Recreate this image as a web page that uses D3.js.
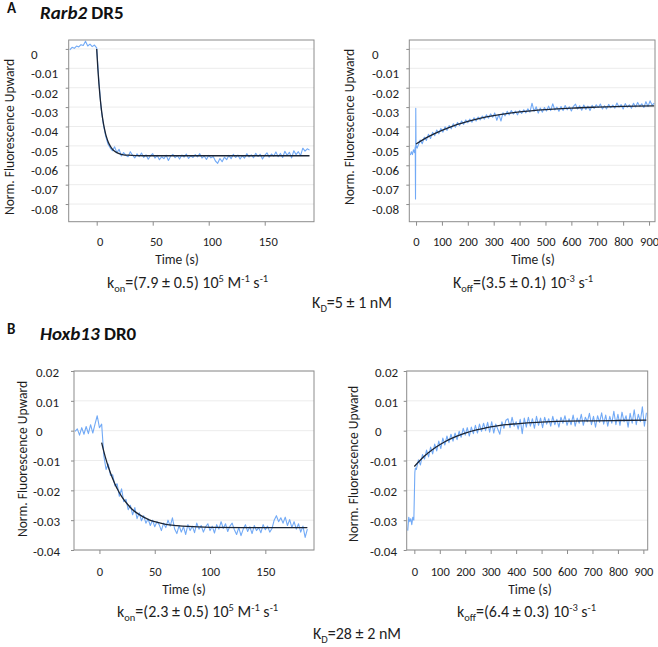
<!DOCTYPE html>
<html><head><meta charset="utf-8">
<script src="https://cdn.jsdelivr.net/npm/d3@7"></script>
<style>
body{margin:0;background:#fff}
svg{font-family:Carlito,Calibri,Lato,'Open Sans',sans-serif}
</style>
</head><body>
<svg id="c" width="658" height="647"></svg>
<script>
// ---------- tick labels ----------
const xTicksOn = [0, 50, 100, 150];
const xTicksOff = [0, 100, 200, 300, 400, 500, 600, 700, 800, 900];
const yTicksA = [0, -0.01, -0.02, -0.03, -0.04, -0.05, -0.06, -0.07, -0.08];
const yTicksB = [0.02, 0.01, 0, -0.01, -0.02, -0.03, -0.04];

// ---------- Rarb2 DR5 association (raw trace, sampled every 2 s from -24 s) ----------
const rarbOnStart = -24, rarbOnStep = 2;
const rarbOnY = [
 -0.0005, 0.0008, 0.0003, 0.0015, 0.0010, 0.0022, 0.0018, 0.0040, 0.0015, 0.0025, 0.0012, 0.0020, 0.0005,
 -0.0170, -0.0310, -0.0390, -0.0450, -0.0490, -0.0510, -0.0525, -0.0505, -0.0535, -0.0518, -0.0552, -0.0535, -0.0548, -0.0556, -0.0530,
 -0.0548, -0.0562, -0.0541, -0.0555, -0.0537, -0.0560, -0.0546, -0.0569, -0.0551, -0.0540,
 -0.0563, -0.0549, -0.0571, -0.0556, -0.0566, -0.0548, -0.0575, -0.0553, -0.0544, -0.0561,
 -0.0550, -0.0568, -0.0547, -0.0558, -0.0542, -0.0565, -0.0551, -0.0560, -0.0545, -0.0557,
 -0.0540, -0.0563, -0.0552, -0.0570, -0.0549, -0.0562, -0.0555, -0.0578, -0.0590, -0.0565,
 -0.0582, -0.0558, -0.0571, -0.0549, -0.0566, -0.0543, -0.0560, -0.0547, -0.0568, -0.0551,
 -0.0563, -0.0540, -0.0557, -0.0546, -0.0561, -0.0538, -0.0555, -0.0543, -0.0568, -0.0549,
 -0.0536, -0.0558, -0.0542, -0.0553, -0.0531, -0.0556, -0.0539, -0.0560, -0.0528, -0.0549,
 -0.0533, -0.0562, -0.0525, -0.0545, -0.0530, -0.0550, -0.0512, -0.0527, -0.0515, -0.0522
];
const rarbOnFitT = [0, 1, 2, 3, 4, 5, 6, 7, 8, 9, 10, 12, 14, 16, 18, 20, 24, 28, 35, 50, 190];
const rarbOnFitY = [0, -0.0100, -0.0181, -0.0248, -0.0303, -0.0348, -0.0384, -0.0414, -0.0439, -0.0459, -0.0476,
 -0.0500, -0.0517, -0.0528, -0.0535, -0.0540, -0.0546, -0.0548, -0.0550, -0.0551, -0.0551];

// ---------- Rarb2 DR5 dissociation ----------
const rarbOffPreT = [-22, -18, -14, -10, -6, -3, -2, -1, 0, 4];
const rarbOffPreY = [-0.0548, -0.0530, -0.0545, -0.0520, -0.0535, -0.0505, -0.0774, -0.0306, -0.0495, -0.0512];
const rarbOffStart = 8, rarbOffStep = 8;
const rarbOffY = [
 -0.0498, -0.0470, -0.0489, -0.0455, -0.0472,
 -0.0440, -0.0462, -0.0430, -0.0448, -0.0418,
 -0.0438, -0.0410, -0.0429, -0.0402, -0.0420,
 -0.0395, -0.0412, -0.0386, -0.0404, -0.0379,
 -0.0395, -0.0372, -0.0389, -0.0366, -0.0381,
 -0.0362, -0.0378, -0.0355, -0.0372, -0.0351,
 -0.0366, -0.0346, -0.0362, -0.0340, -0.0357,
 -0.0335, -0.0352, -0.0330, -0.0368, -0.0338,
 -0.0372, -0.0329, -0.0345, -0.0322, -0.0340,
 -0.0318, -0.0336, -0.0321, -0.0340, -0.0317,
 -0.0333, -0.0314, -0.0330, -0.0309, -0.0326,
 -0.0280, -0.0322, -0.0298, -0.0331, -0.0305,
 -0.0326, -0.0302, -0.0320, -0.0295, -0.0318,
 -0.0283, -0.0315, -0.0300, -0.0322, -0.0297,
 -0.0318, -0.0292, -0.0314, -0.0298, -0.0320,
 -0.0296, -0.0285, -0.0310, -0.0293, -0.0316,
 -0.0289, -0.0312, -0.0295, -0.0318, -0.0291,
 -0.0307, -0.0288, -0.0302, -0.0284, -0.0310,
 -0.0293, -0.0309, -0.0286, -0.0303, -0.0290,
 -0.0305, -0.0279, -0.0300, -0.0287, -0.0310,
 -0.0282, -0.0301, -0.0288, -0.0306, -0.0280,
 -0.0299, -0.0276, -0.0296, -0.0283, -0.0302,
 -0.0272, -0.0297, -0.0268, -0.0290, -0.0279
];
const rarbOffFitT = [0, 50, 100, 150, 200, 250, 300, 400, 500, 600, 700, 800, 920];
const rarbOffFitY = [-0.0490, -0.0451, -0.0420, -0.0394, -0.0374, -0.0357, -0.0344, -0.0325, -0.0313, -0.0305, -0.0300, -0.0296, -0.0294];

// ---------- Hoxb13 DR0 association (every 2 s from -22 s) ----------
const hoxOnStart = -22, hoxOnStep = 2;
const hoxOnY = [
 -0.0002, 0.0006, -0.0015, 0.0010, -0.0012, 0.0014, -0.0010, 0.0020, -0.0008, 0.0022, 0.0050, 0.0010, 0.0022,
 -0.0085, -0.0130, -0.0112, -0.0150, -0.0148, -0.0185, -0.0178, -0.0220, -0.0195, -0.0238, -0.0230, -0.0265,
 -0.0250, -0.0282, -0.0258, -0.0295, -0.0275, -0.0302, -0.0285, -0.0310, -0.0296, -0.0318, -0.0300, -0.0322,
 -0.0305, -0.0315, -0.0335, -0.0310, -0.0325, -0.0300, -0.0320, -0.0292, -0.0330, -0.0345, -0.0318, -0.0340,
 -0.0322, -0.0348, -0.0315, -0.0335, -0.0320, -0.0342, -0.0310, -0.0330, -0.0318, -0.0340, -0.0322, -0.0312,
 -0.0335, -0.0320, -0.0343, -0.0315, -0.0330, -0.0305, -0.0328, -0.0312, -0.0338, -0.0320, -0.0310, -0.0332,
 -0.0348, -0.0325, -0.0352, -0.0330, -0.0315, -0.0338, -0.0322, -0.0345, -0.0318, -0.0335, -0.0325, -0.0342,
 -0.0315, -0.0332, -0.0320, -0.0340, -0.0328, -0.0300, -0.0285, -0.0305, -0.0292, -0.0310, -0.0290, -0.0318,
 -0.0298, -0.0325, -0.0305, -0.0330, -0.0312, -0.0340, -0.0320, -0.0358, -0.0330
];
const hoxOnFitT = [2, 4, 6, 8, 10, 12, 14, 16, 18, 20, 25, 30, 35, 40, 45, 50, 60, 70, 80, 100, 130, 188];
const hoxOnFitY = [-0.0040, -0.0070, -0.0097, -0.0121, -0.0142, -0.0161, -0.0179, -0.0194, -0.0208, -0.0220, -0.0245,
 -0.0265, -0.0279, -0.0290, -0.0299, -0.0305, -0.0314, -0.0318, -0.0321, -0.0324, -0.0325, -0.0325];

// ---------- Hoxb13 DR0 dissociation ----------
const hoxOffPreT = [-26, -22, -18, -14, -10, -6, -2, 0, 2, 4];
const hoxOffPreY = [-0.0335, -0.0290, -0.0305, -0.0295, -0.0315, -0.0290, -0.0300, -0.0220, -0.0140, -0.0125];
const hoxOffStart = 8, hoxOffStep = 8;
const hoxOffY = [
 -0.0130, -0.0098, -0.0115, -0.0080, -0.0095,
 -0.0065, -0.0088, -0.0055, -0.0078, -0.0045,
 -0.0068, -0.0035, -0.0060, -0.0025, -0.0048,
 -0.0018, -0.0040, -0.0012, -0.0035, -0.0008,
 -0.0030, -0.0002, -0.0022, 0.0008, -0.0015,
 0.0010, -0.0018, 0.0012, -0.0010, 0.0018,
 -0.0008, 0.0022, -0.0002, 0.0025, 0.0000,
 0.0028, -0.0005, 0.0030, -0.0008, 0.0022,
 0.0005, -0.0012, 0.0030, 0.0008, 0.0035,
 0.0040, 0.0010, 0.0045, 0.0015, 0.0030,
 0.0005, 0.0038, -0.0010, 0.0042, 0.0012,
 0.0045, 0.0015, 0.0040, 0.0008, 0.0048,
 0.0018, 0.0042, 0.0010, 0.0045, 0.0022,
 0.0040, 0.0015, 0.0048, 0.0020, 0.0038,
 0.0012, 0.0045, 0.0025, 0.0050, 0.0018,
 0.0040, 0.0020, 0.0052, 0.0015, 0.0042,
 0.0025, 0.0055, 0.0018, 0.0045, 0.0030,
 0.0058, 0.0020, 0.0048, 0.0012, 0.0050,
 0.0028, 0.0060, 0.0022, 0.0052, 0.0015,
 0.0048, 0.0025, 0.0065, 0.0020, 0.0055,
 0.0018, 0.0062, 0.0030, 0.0050, 0.0012,
 0.0058, 0.0025, 0.0070, 0.0020, 0.0055,
 0.0030, 0.0080, 0.0015, 0.0060
];
const hoxOffFitT = [0, 40, 80, 120, 160, 200, 240, 280, 320, 360, 400, 480, 560, 700, 800, 912];
const hoxOffFitY = [-0.0120, -0.0085, -0.0058, -0.0037, -0.0021, -0.0008, 0.0002, 0.0009, 0.0015, 0.0020, 0.0023, 0.0028, 0.0031, 0.0033, 0.0034, 0.0035];

// ---------- assemble ----------
const grid = (start, step, ys) => ys.map((v, i) => [start + i * step, v]);
const pairs = (ts, ys) => ts.map((t, i) => [t, ys[i]]);

const panels = [
  { id: 'al', raw: grid(rarbOnStart, rarbOnStep, rarbOnY), fit: pairs(rarbOnFitT, rarbOnFitY),
    x0: 68.7, x1: 314, y0: 40, y1: 221.7, xDomain: [-25, 194], yDomain: [-0.0891, 0.0046],
    xTicks: xTicksOn, yTicks: yTicksA, yLabelX: 31, yLabelShift: 5, minusHang: 0, xLabelDx: 3,
    xLabelPad: 11, ytX: 9, ytY: 137, timeX: 177, timeY: 259 },
  { id: 'ar', raw: pairs(rarbOffPreT, rarbOffPreY).concat(grid(rarbOffStart, rarbOffStep, rarbOffY)), fit: pairs(rarbOffFitT, rarbOffFitY),
    x0: 409.3, x1: 655, y0: 40, y1: 221.7, xDomain: [-26, 923], yDomain: [-0.0891, 0.0046],
    xTicks: xTicksOff, yTicks: yTicksA, yLabelX: 372, yLabelShift: 5, minusHang: 0, xLabelDx: 0,
    xLabelPad: 11, ytX: 349, ytY: 127, timeX: 533, timeY: 259 },
  { id: 'bl', raw: grid(hoxOnStart, hoxOnStep, hoxOnY), fit: pairs(hoxOnFitT, hoxOnFitY),
    x0: 74, x1: 314, y0: 371, y1: 550, xDomain: [-23, 194], yDomain: [-0.04, 0.02],
    xTicks: xTicksOn, yTicks: yTicksB, yLabelX: 36, yLabelShift: 1, minusHang: 3, xLabelDx: 0,
    xLabelPad: 13, ytX: 22, ytY: 459, timeX: 184, timeY: 589 },
  { id: 'br', raw: pairs(hoxOffPreT, hoxOffPreY).concat(grid(hoxOffStart, hoxOffStep, hoxOffY)), fit: pairs(hoxOffFitT, hoxOffFitY),
    x0: 406.7, x1: 647.7, y0: 371, y1: 550, xDomain: [-30, 917], yDomain: [-0.04, 0.02],
    xTicks: xTicksOff, yTicks: yTicksB, yLabelX: 375, yLabelShift: 1, minusHang: 5, xLabelDx: 0,
    xLabelPad: 13, ytX: 353, ytY: 464, timeX: 530, timeY: 589 }
];

const svg = d3.select('#c');
const TXT = '#1e1e1e', AX = '#8c8c8c';
const fmt = v => v === 0 ? '0' : v.toFixed(2);

panels.forEach(p => {
  const x = d3.scaleLinear().domain(p.xDomain).range([p.x0, p.x1]);
  const y = d3.scaleLinear().domain(p.yDomain).range([p.y1, p.y0]);
  const g = svg.append('g');

  g.selectAll('line.grid').data(p.yTicks).join('line').attr('class', 'grid')
    .attr('x1', p.x0).attr('x2', p.x1).attr('y1', d => y(d)).attr('y2', d => y(d))
    .attr('stroke', '#ececec').attr('stroke-width', 1);

  svg.append('clipPath').attr('id', 'clip-' + p.id).append('rect')
    .attr('x', p.x0).attr('y', p.y0).attr('width', p.x1 - p.x0).attr('height', p.y1 - p.y0);

  const line = d3.line().x(d => x(d[0])).y(d => y(d[1]));
  g.append('path').datum(p.raw).attr('d', line).attr('fill', 'none')
    .attr('stroke', '#72aaf6').attr('stroke-width', 1.1).attr('stroke-linejoin', 'round')
    .attr('clip-path', `url(#clip-${p.id})`);
  g.append('path').datum(p.fit).attr('d', line.curve(d3.curveMonotoneX)).attr('fill', 'none')
    .attr('stroke', '#1b2535').attr('stroke-width', 1.3).attr('clip-path', `url(#clip-${p.id})`);

  g.append('rect').attr('x', p.x0).attr('y', p.y0).attr('width', p.x1 - p.x0).attr('height', p.y1 - p.y0)
    .attr('fill', 'none').attr('stroke', AX).attr('stroke-width', 1);

  const ya = g.append('g').attr('transform', `translate(${p.x0},0)`)
    .call(d3.axisLeft(y).tickValues(p.yTicks).tickSize(3).tickFormat(fmt));
  ya.attr('font-family', null).attr('font-size', null);
  ya.select('.domain').remove();
  ya.selectAll('line').attr('stroke', AX);
  ya.selectAll('text').attr('text-anchor', 'start')
    .attr('x', d => p.yLabelX - p.x0 - (d < 0 ? p.minusHang : 0))
    .attr('dy', 4.3 + p.yLabelShift).style('font-size', '13px').attr('fill', TXT);

  const xa = g.append('g').attr('transform', `translate(0,${p.y1})`)
    .call(d3.axisBottom(x).tickValues(p.xTicks).tickSize(4).tickPadding(p.xLabelPad).tickFormat(d3.format('d')));
  xa.attr('font-family', null).attr('font-size', null);
  xa.select('.domain').remove();
  xa.selectAll('line').attr('stroke', AX);
  xa.selectAll('text').attr('dx', p.xLabelDx).style('font-size', '12.5px').attr('fill', TXT);

  svg.append('text').attr('transform', `translate(${p.ytX},${p.ytY}) rotate(-90)`)
    .attr('text-anchor', 'middle').attr('dominant-baseline', 'central')
    .style('font-size', '13.5px').attr('fill', TXT).text('Norm. Fluorescence Upward');

  svg.append('text').attr('x', p.timeX).attr('y', p.timeY).attr('text-anchor', 'middle')
    .attr('dominant-baseline', 'central').style('font-size', '13.5px').attr('fill', TXT).text('Time (s)');
});

// ---------- titles ----------
function title(letter, gene, rest, y) {
  svg.append('text').attr('x', 7).attr('y', y - 6).style('font-size', '15px').style('font-weight', 'bold')
    .attr('fill', '#111').text(letter);
  const t = svg.append('text').attr('x', 40).attr('y', y).style('font-size', '19px').style('font-weight', 'bold').attr('fill', '#111');
  t.append('tspan').style('font-style', 'italic').text(gene);
  t.append('tspan').text(' ' + rest);
}
title('A', 'Rarb2', 'DR5', 19);
title('B', 'Hoxb13', 'DR0', 340);

// ---------- rate captions ----------
// parts: [text, shift] where shift: 0 normal, 1 superscript, -1 subscript
function caption(x, y, parts, anchor) {
  const t = svg.append('text').attr('x', x).attr('y', y).style('font-size', '16px').attr('fill', TXT)
    .attr('text-anchor', anchor || 'start');
  let cur = 0;
  parts.forEach(([s, k]) => {
    const target = k === 1 ? -6 : k === -1 ? 3.5 : 0;
    t.append('tspan').attr('dy', target - cur).style('font-size', k ? '10.5px' : null).text(s);
    cur = target;
  });
}
caption(107, 288, [['k', 0], ['on', -1], ['=(7.9 ± 0.5) 10', 0], ['5', 1], [' M', 0], ['-1', 1], [' s', 0], ['-1', 1]]);
caption(453, 288, [['K', 0], ['off', -1], ['=(3.5 ± 0.1) 10', 0], ['-3', 1], [' s', 0], ['-1', 1]]);
caption(352, 308, [['K', 0], ['D', -1], ['=5 ± 1 nM', 0]], 'middle');
caption(117, 617, [['k', 0], ['on', -1], ['=(2.3 ± 0.5) 10', 0], ['5', 1], [' M', 0], ['-1', 1], [' s', 0], ['-1', 1]]);
caption(457, 617, [['k', 0], ['off', -1], ['=(6.4 ± 0.3) 10', 0], ['-3', 1], [' s', 0], ['-1', 1]]);
caption(357, 639, [['K', 0], ['D', -1], ['=28 ± 2 nM', 0]], 'middle');
</script>
</body></html>
